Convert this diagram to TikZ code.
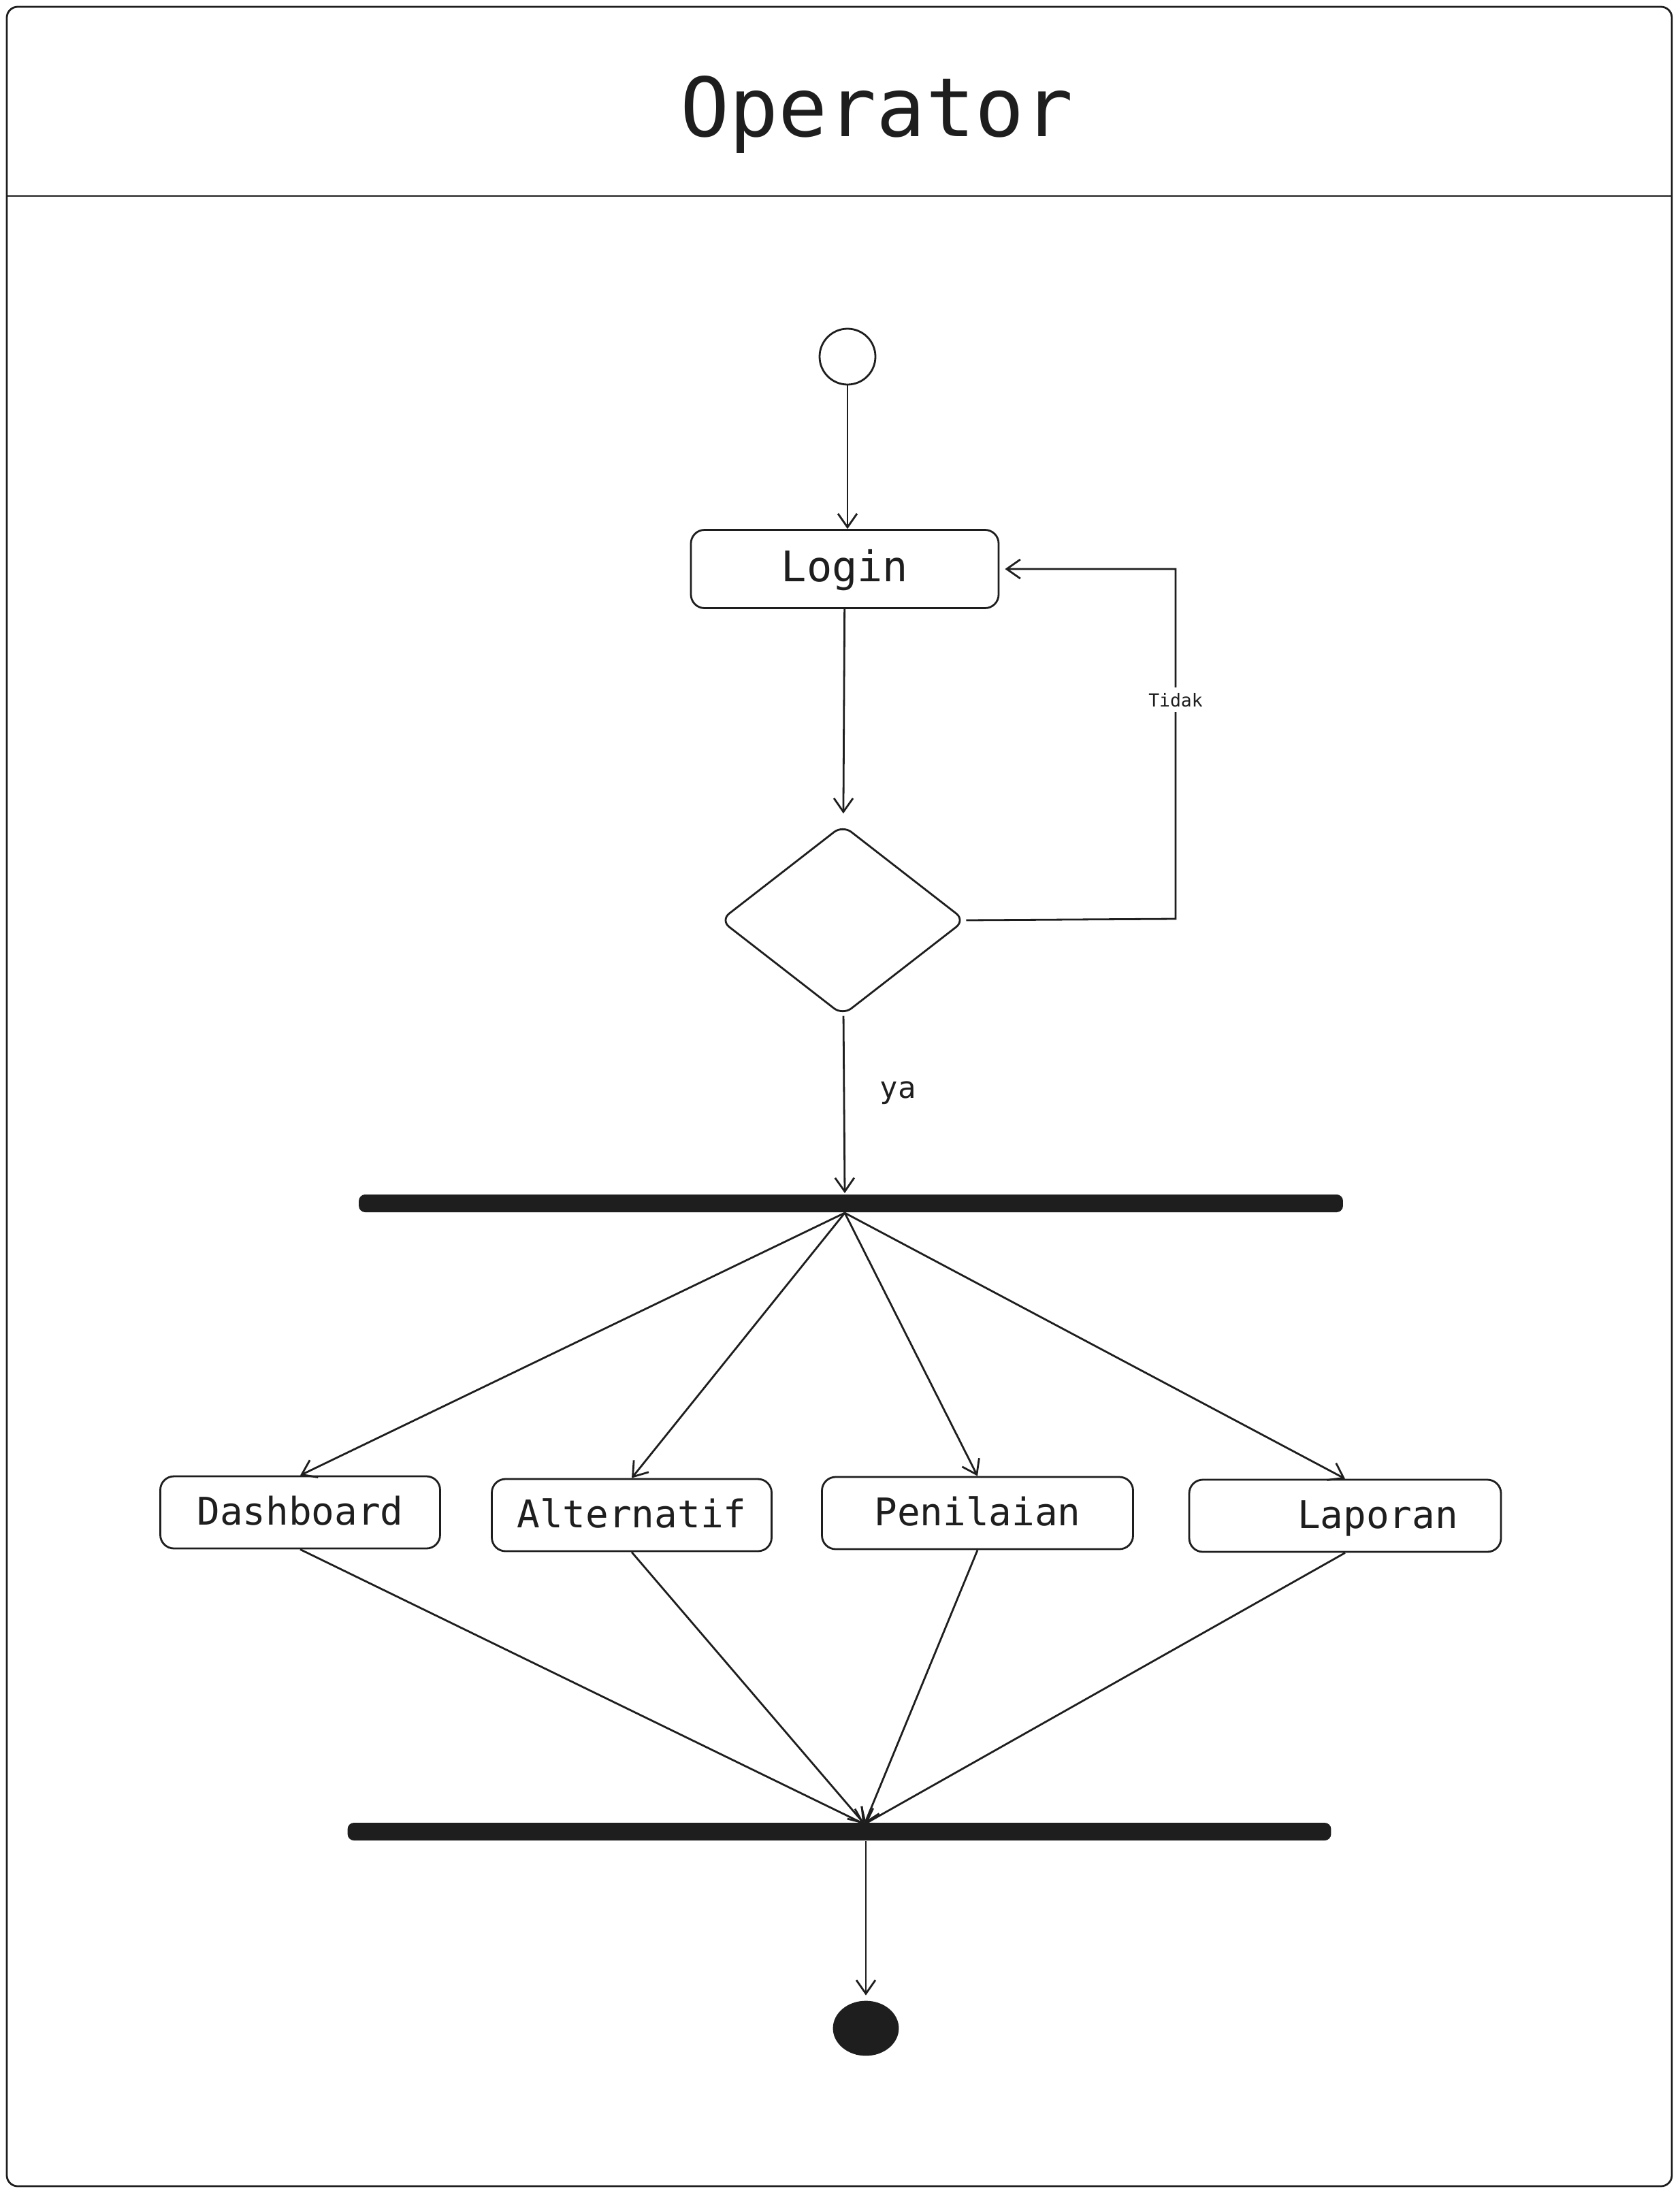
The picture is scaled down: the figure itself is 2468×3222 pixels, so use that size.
\documentclass[tikz,border=0pt]{standalone}
\usepackage{fontspec}
\setmainfont{DejaVu Sans Mono}
\usetikzlibrary{arrows.meta,shapes.geometric,calc}
\definecolor{ink}{HTML}{1E1E1E}
\begin{document}
\begin{tikzpicture}[x=0.25pt,y=-0.25pt,line width=0.7pt,
  every node/.style={text=ink},
  act/.style={draw=ink, rounded corners=5pt, inner sep=0pt, minimum height=26.5pt,
    font=\fontsize{14}{16}\selectfont, text height=1.1em, text depth=0.2em},
  flow/.style={draw=ink, -{Straight Barb[length=5pt,width=7pt]}},
  syncbar/.style={fill=ink, draw=ink, rounded corners=2pt, inner sep=0pt, minimum height=5.8pt}]
\useasboundingbox (0,0) rectangle (2468,3222);
% frame
\draw[ink, rounded corners=4pt] (10,10) rectangle (2456,3212);
\draw[ink] (10,288) -- (2456,288);
\node[anchor=base, font=\fontsize{30}{36}\selectfont] (title) at (1288,201) {Operator};
% nodes
\node[draw=ink, circle, minimum size=20.5pt, inner sep=0pt] (start) at (1245,524) {};
\node[act, minimum width=113pt, minimum height=28.75pt, font=\fontsize{15.5}{18}\selectfont] (login) at (1241,836) {Login};
\node[draw=ink, diamond, minimum width=90pt, minimum height=70pt, inner sep=0pt, rounded corners=4pt] (dec) at (1238,1352) {};
\node[syncbar, minimum width=360.75pt] (bar1) at (1250,1768) {};
\node[act, minimum width=102.75pt] (dash) at (441,2222) {Dashboard};
\node[act, minimum width=102.75pt] (alt) at (928,2226) {Alternatif};
\node[act, minimum width=114.25pt] (pen) at (1436,2223) {Penilaian};
\node[act, minimum width=114.5pt] (lap) at (1976,2227) {\hspace*{24pt}Laporan};
\node[syncbar, minimum width=360.5pt] (bar2) at (1233,2691) {};
\node[ellipse, fill=ink, draw=ink, minimum width=23.5pt, minimum height=19.5pt, inner sep=0pt] (endn) at (1272,2980) {};
\node[font=\fontsize{11}{13}\selectfont] (ya) at (1319,1606) {ya};
% helper coordinates
\coordinate (fin) at (1241,1753);
\coordinate (fout) at (1241,1782);
\coordinate (jin) at (1270,2680);
\coordinate (jout) at (1272,2705);
\coordinate (c1) at (1727,1350);
\coordinate (c2) at (1727,836);
% connectors
\draw[flow] (start) -- (start |- login.north);
\draw[flow, shorten >=4pt] (login) -- (dec);
\draw[flow] (dec) -- (fin);
\draw[flow, shorten >=2pt] (dec.east) -- (c1) -- node[pos=0.626, fill=white, inner sep=2pt, font=\fontsize{6.6}{8}\selectfont] {Tidak} (c2) -- (login.east);
\draw[flow] (fout) -- (dash.north);
\draw[flow] (fout) -- (alt.north);
\draw[flow] (fout) -- (pen.north);
\draw[flow] (fout) -- (lap.north);
\draw[flow] (dash.south) -- (jin);
\draw[flow] (alt.south) -- (jin);
\draw[flow] (pen.south) -- (jin);
\draw[flow] (lap.south) -- (jin);
\draw[flow, shorten >=2pt] (jout) -- (endn);
\end{tikzpicture}
\end{document}
